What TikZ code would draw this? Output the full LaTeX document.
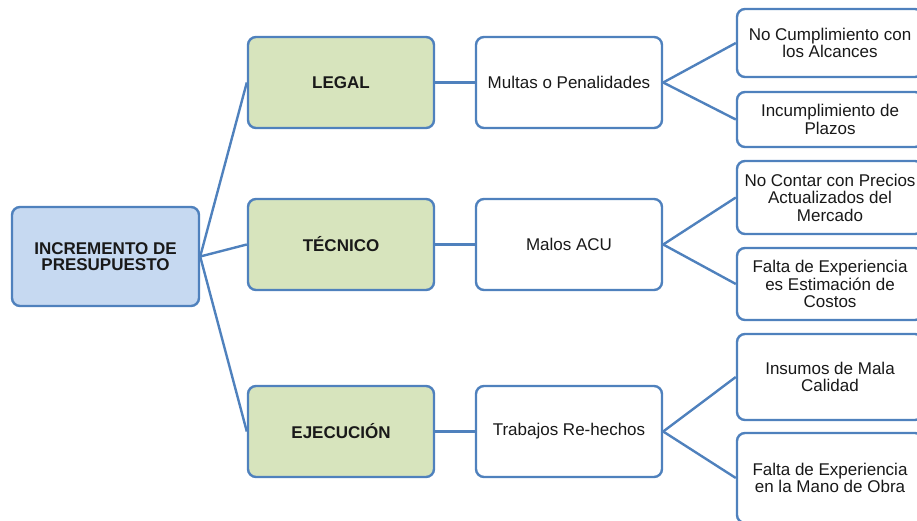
\documentclass[tikz,border=0pt]{standalone}
\usepackage{fontspec}
\setmainfont{Liberation Sans}
\definecolor{bordblue}{RGB}{79,129,189}
\definecolor{rootfill}{RGB}{198,217,241}
\definecolor{greenfill}{RGB}{215,228,189}
\tikzset{
  box/.style={draw=bordblue, line width=2.4pt, rounded corners=8pt, inner sep=0pt,
    minimum width=186pt, align=center, font=\fontsize{17}{17.5}\selectfont, text=black!90},
  rootbox/.style={box, fill=rootfill, minimum width=187pt, minimum height=99pt, font=\bfseries\fontsize{17}{16.5}\selectfont},
  catbox/.style={box, fill=greenfill, minimum height=91pt, font=\bfseries\fontsize{17}{17.5}\selectfont},
  midbox/.style={box, fill=white, minimum height=91pt},
  leafbox/.style={box, fill=white},
  link/.style={draw=bordblue, line width=2.4pt}
}
\begin{document}
\begin{tikzpicture}[x=1pt,y=-1pt]
\useasboundingbox (0,0) rectangle (917,521);
\clip (0,0) rectangle (917,521);
\node[rootbox] (root) at (105.5,256.5) {INCREMENTO DE\\PRESUPUESTO};
\node[catbox] (legal) at (341,82.5) {LEGAL};
\node[catbox] (tec) at (341,244.5) {TÉCNICO};
\node[catbox] (eje) at (341,431.5) {EJECUCIÓN};
\node[midbox] (multas) at (569,82.5) {Multas o Penalidades};
\node[midbox] (acu) at (569,244.5) {Malos ACU};
\node[midbox] (trab) at (569,431.5) {Trabajos Re-hechos};
\node[leafbox, minimum height=68pt] (l1) at (830,43) {No Cumplimiento con\\los Alcances};
\node[leafbox, minimum height=55pt] (l2) at (830,119.5) {Incumplimiento de\\Plazos};
\node[leafbox, minimum height=73pt] (l3) at (830,197.5) {No Contar con Precios\\Actualizados del\\Mercado};
\node[leafbox, minimum height=72pt] (l4) at (830,284) {Falta de Experiencia\\es Estimación de\\Costos};
\node[leafbox, minimum height=86pt] (l5) at (830,377) {Insumos de Mala\\Calidad};
\node[leafbox, minimum height=90pt] (l6) at (830,478) {Falta de Experiencia\\en la Mano de Obra};
\draw[link] (root.east) -- (legal.west);
\draw[link] (root.east) -- (tec.west);
\draw[link] (root.east) -- (eje.west);
\draw[link] (legal.east) -- (multas.west);
\draw[link] (tec.east) -- (acu.west);
\draw[link] (eje.east) -- (trab.west);
\draw[link] (multas.east) -- (l1.west);
\draw[link] (multas.east) -- (l2.west);
\draw[link] (acu.east) -- (l3.west);
\draw[link] (acu.east) -- (l4.west);
\draw[link] (trab.east) -- (l5.west);
\draw[link] (trab.east) -- (l6.west);
\end{tikzpicture}
\end{document}
